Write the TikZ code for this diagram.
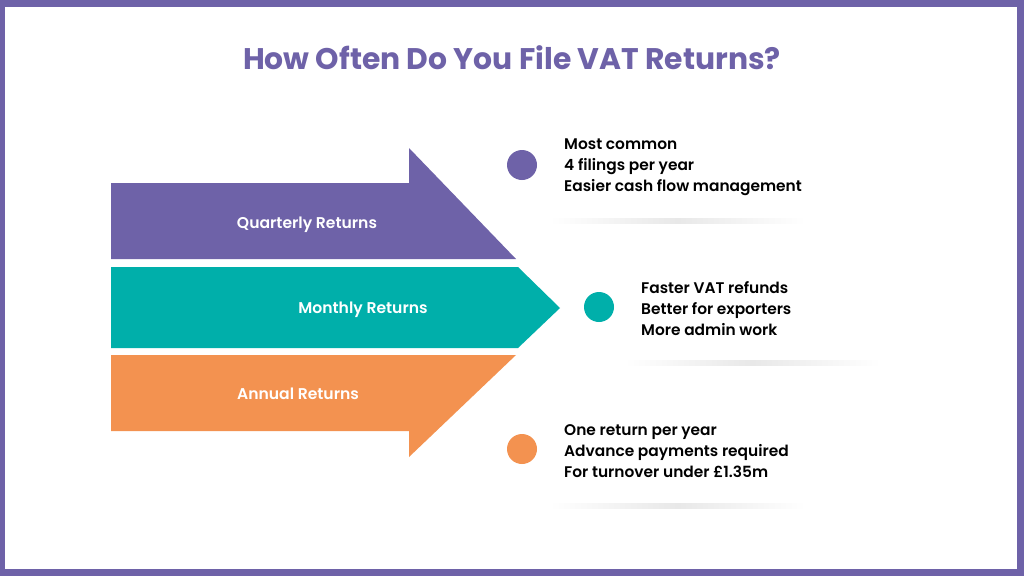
\documentclass[tikz,border=0pt]{standalone}
\usepackage{fontspec}
\setmainfont{Poppins}
\newfontfamily\popsemi{Poppins SemiBold}
\definecolor{vatpurple}{HTML}{6E62A8}
\definecolor{vatteal}{HTML}{00AFAA}
\definecolor{vatorange}{HTML}{F39250}
\tikzset{
  banner/.style={text=white, font=\popsemi\fontsize{15.6}{18}\selectfont},
  dot/.style={circle, minimum size=30pt, inner sep=0pt},
  notes/.style={anchor=west, align=left, inner sep=0pt, text=black,
    font=\popsemi\fontsize{15.4}{21}\selectfont},
  glow/.style={left color=white, right color=white, middle color=black!9}
}
\begin{document}
\begin{tikzpicture}[x=1pt,y=-1pt]
\useasboundingbox (0,0) rectangle (1024,576);
\fill[vatpurple] (0,0) rectangle (1024,576);
\fill[white] (5,7) rectangle (1017,569);
\node[text=vatpurple, font=\bfseries\fontsize{29.8}{34}\selectfont] (title) at (512,58) {How Often Do You File VAT Returns?};
% the three arrows
\fill[vatpurple] (111,183) -- (409,183) -- (409,148) -- (516,259) -- (111,259) -- cycle;
\fill[vatteal] (111,267) -- (518,267) -- (560,308) -- (518,348) -- (111,348) -- cycle;
\fill[vatorange] (111,355) -- (516,355) -- (409,457) -- (409,431) -- (111,431) -- cycle;
\node[banner] (quarterly) at (307,225) {Quarterly Returns};
\node[banner] (monthly) at (363,310) {Monthly Returns};
\node[banner] (annual) at (298,394) {Annual Returns};
% notes
\shade[glow] (550,218) rectangle (805,223);
\shade[glow] (625,360) rectangle (880,365);
\shade[glow] (550,503) rectangle (805,508);
\node[dot, fill=vatpurple] (qdot) at (522,165) {};
\node[dot, fill=vatteal] (mdot) at (599,307) {};
\node[dot, fill=vatorange] (adot) at (522,449) {};
\node[notes] (qnotes) at (564,167) {Most common\\4 filings per year\\Easier cash flow management};
\node[notes] (mnotes) at (641,309) {Faster VAT refunds\\Better for exporters\\More admin work};
\node[notes] (anotes) at (564,451) {One return per year\\Advance payments required\\For turnover under £1.35m};
\end{tikzpicture}
\end{document}
